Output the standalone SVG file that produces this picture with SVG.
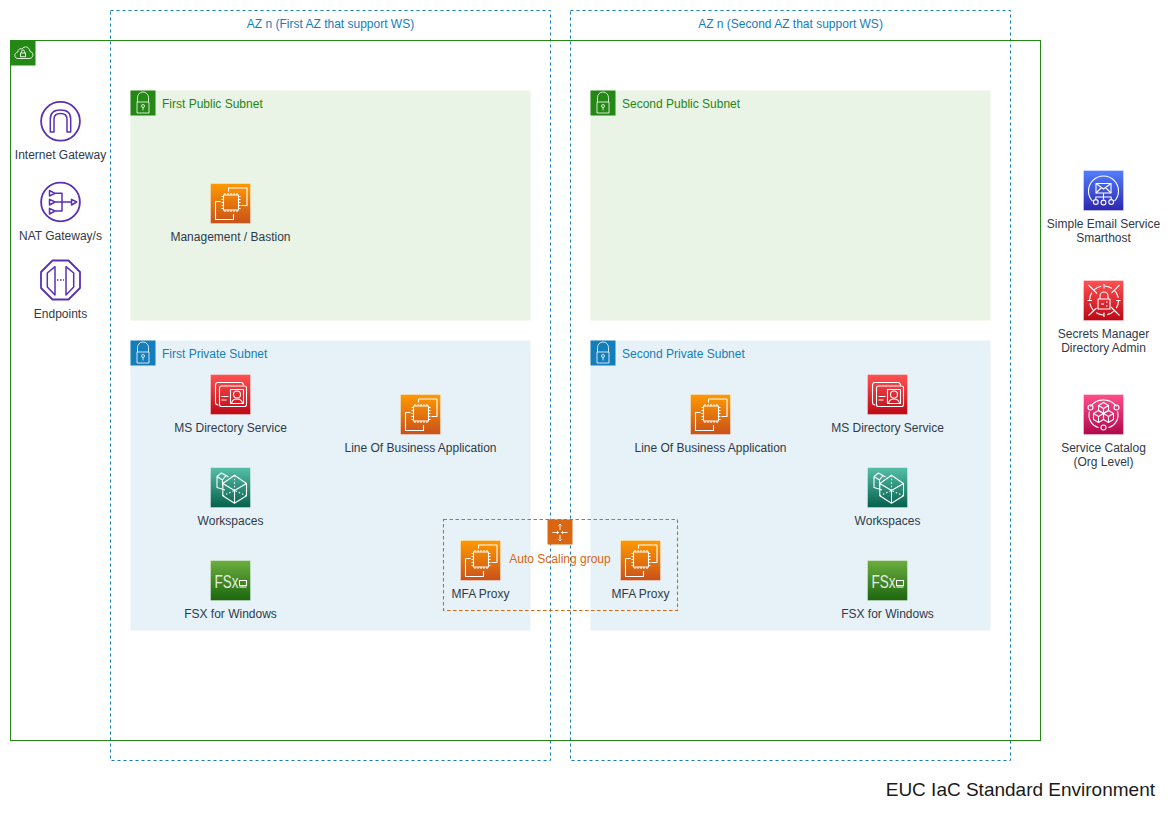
<svg xmlns="http://www.w3.org/2000/svg" xmlns:xlink="http://www.w3.org/1999/xlink" width="1171" height="816" viewBox="0 0 1171 816">
<style>
text{font-family:"Liberation Sans",Arial,sans-serif;font-size:12px;fill:#2f3a48;text-anchor:middle}
.gl{text-anchor:start}
.grn{fill:#248814}.blu{fill:#147EBA}.org{fill:#D86613}
.az{fill:none;stroke:#147EBA;stroke-dasharray:3 3}
.bd{fill:none;stroke:#fff;stroke-opacity:.35}
.w{fill:none;stroke:#fff;stroke-width:1.1;stroke-linejoin:round}
.p{fill:none;stroke:#5A30B5;stroke-width:1.8;stroke-linejoin:round}
.p1{fill:none;stroke:#5A30B5;stroke-width:1.5;stroke-linejoin:round}
</style>
<defs>
<linearGradient id="gO" x1="0" y1="1" x2="0" y2="0"><stop offset="0" stop-color="#C8511B"/><stop offset="1" stop-color="#FF9900"/></linearGradient>
<linearGradient id="gR" x1="0" y1="1" x2="0" y2="0"><stop offset="0" stop-color="#BD0816"/><stop offset="1" stop-color="#FF5252"/></linearGradient>
<linearGradient id="gT" x1="0" y1="1" x2="0" y2="0"><stop offset="0" stop-color="#055F4E"/><stop offset="1" stop-color="#56C0A7"/></linearGradient>
<linearGradient id="gG" x1="0" y1="1" x2="0" y2="0"><stop offset="0" stop-color="#1B660F"/><stop offset="1" stop-color="#6CAE3E"/></linearGradient>
<linearGradient id="gB" x1="0" y1="1" x2="0" y2="0"><stop offset="0" stop-color="#2E27AD"/><stop offset="1" stop-color="#527FFF"/></linearGradient>
<linearGradient id="gP" x1="0" y1="1" x2="0" y2="0"><stop offset="0" stop-color="#B0084D"/><stop offset="1" stop-color="#FF4F8B"/></linearGradient>
<g id="ec2">
<rect width="40" height="40" fill="url(#gO)"/><rect class="bd" width="40" height="40"/>
<path class="w" d="M18 8V4.500H36.500V22H31M10 18H5V36H23V30.500"/>
<rect class="w" x="13" y="11.500" width="15" height="15" stroke-width="1.400"/>
<path class="w" stroke-width=".8" d="M14.500 9.500V11.500M17.500 9.500V11.500M20.500 9.500V11.500M23.500 9.500V11.500M26.500 9.500V11.500M14.500 26.500V28.500M17.500 26.500V28.500M20.500 26.500V28.500M23.500 26.500V28.500M26.500 26.500V28.500M11 13H13M11 16H13M11 19H13M11 22H13M11 25H13M28 13H30M28 16H30M28 19H30M28 22H30M28 25H30"/>
</g>
<g id="ds">
<rect width="40" height="40" fill="url(#gR)"/><rect class="bd" width="40" height="40"/>
<path class="w" d="M8 30.500C6 30.500 5 29.500 5 28V10.500C5 9 6 8 7.500 8H30.500C32 8 33 9 33 11"/>
<rect class="w" x="9" y="11.500" width="27" height="20.500" rx="2"/>
<rect class="w" x="20" y="15" width="13" height="14"/>
<circle class="w" cx="26.500" cy="20" r="3.500"/>
<path class="w" d="M21 29C21.500 25.500 24 24.500 26.500 24.500S31.500 25.500 32 29M11 22H18M11 25.500H16"/>
</g>
<g id="ws">
<rect width="40" height="40" fill="url(#gT)"/><rect class="bd" width="40" height="40"/>
<path class="w" d="M24 7.700L36 16V28.300L24 35.700L12.300 28.300V16ZM12.300 16L24 23L36 16M24 23V35.700"/>
<path class="w" d="M14.500 22.500L6.500 20V9L11 5.500L18 9.500M6.500 9L12 12.500V19M12 12.500L15.500 8"/>
<path class="w" stroke-dasharray="1.500 2" d="M12.300 28.300L24 23L36 28.300M24 7.700V23"/>
</g>
<g id="fsx">
<rect width="40" height="40" fill="url(#gG)"/><rect class="bd" width="40" height="40"/>
<text x="4" y="27.500" style="font-size:18px;fill:#fff;text-anchor:start;opacity:.85" textLength="24" lengthAdjust="spacingAndGlyphs">FSx</text>
<rect class="w" x="29" y="20" width="7" height="5"/><path class="w" d="M29 26.500H36"/>
</g>
<g id="ses">
<rect width="40" height="40" fill="url(#gB)"/><rect class="bd" width="40" height="40"/>
<path class="w" d="M9 30.500C6 27.500 5 24 5 20.500A15 15 0 0 1 35 20.500C35 24 34 27.500 31 30.500"/>
<rect class="w" x="12.500" y="13" width="15" height="9.500"/><path class="w" d="M12.500 13L20 18.500L27.500 13M12.500 22.500L18 17M27.500 22.500L22 17M20 22.500V26.500M12.300 29V26.500H27.700V29M20 26.500V29"/>
<circle class="w" cx="12.300" cy="31.500" r="2.400"/><circle class="w" cx="20" cy="32" r="2.400"/><circle class="w" cx="27.700" cy="31.500" r="2.400"/>
</g>
<g id="sm">
<rect width="40" height="40" fill="url(#gR)"/><rect class="bd" width="40" height="40"/>
<circle class="w" cx="20.500" cy="20" r="14.500" stroke-dasharray="8 3.400"/>
<path class="w" d="M5 4.500L13.500 13M36 4.500L28 12.500M5 35L13 27.500M36 35L27.500 26.500M20.500 3.500V8M20.500 32V36.500M4 20H8.500M32.500 20H37"/>
<rect class="w" x="14.500" y="18.500" width="12" height="10" stroke-width="1.300"/><path class="w" stroke-width="1.300" d="M16.500 18.500V15.500A4 4 0 0 1 24.500 15.500V18.500M17.500 23.500H20.500M22.500 21.500H24M22.500 25.500H24"/>
</g>
<g id="sc">
<rect width="40" height="40" fill="url(#gP)"/><rect class="bd" width="40" height="40"/>
<path class="w" d="M7 12A16 16 0 0 1 33 12M6 17C4 24 8 31 15 33M34 17C36 24 32 31 25 33"/>
<circle class="w" cx="7" cy="13" r="2.500"/><circle class="w" cx="33" cy="13" r="2.500"/><circle class="w" cx="20" cy="33" r="2.500"/>
<path class="w" d="M20 8L25 11V16L20 19L15 16V11ZM15 11L20 14L25 11M20 14V19"/>
<path class="w" d="M15 16L20 19V25L15 28L10 25V19ZM10 19L15 22L20 19M15 22V28"/>
<path class="w" d="M25 16L30 19V25L25 28L20 25V19ZM20 19L25 22L30 19M25 22V28"/>
</g>
<g id="lock">
<path fill="none" stroke="#fff" stroke-opacity=".8" d="M7 11.500V7A5.500 5.500 0 0 1 18 7V11.500M6.500 11.500H18.500V22.500H6.500Z"/>
<circle cx="12.500" cy="15.500" r="1.500" fill="none" stroke="#fff" stroke-opacity=".8"/><path d="M12.500 17V20" stroke="#fff" stroke-opacity=".8"/>
</g>
</defs>
<rect width="1171" height="816" fill="#fff"/>

<g id="az-first"><rect class="az" x="110.500" y="10.500" width="440" height="750"/><text x="330.500" y="28" class="blu">AZ n (First AZ that support WS)</text></g>
<g id="az-second"><rect class="az" x="570.500" y="10.500" width="440" height="750"/><text x="790.500" y="28" class="blu">AZ n (Second AZ that support WS)</text></g>

<g id="vpc">
<rect x="10.500" y="40.500" width="1030" height="700" fill="none" stroke="#248814"/>
<rect x="10.500" y="40.500" width="25" height="25" fill="#248814"/>
<path fill="none" stroke="#fff" stroke-opacity=".85" d="M18 58.500H29C34 58.500 34 52 30 51.500C29.500 46.500 24 45.500 22 49C19 48 17.500 50.500 18 52C13.500 53 14 58.500 18 58.500Z"/>
<rect x="20.500" y="53" width="5" height="3.700" fill="none" stroke="#fff" stroke-opacity=".85"/><path fill="none" stroke="#fff" stroke-opacity=".85" d="M21.500 53V51.500A1.500 1.500 0 0 1 24.500 51.500V53"/>
</g>

<g id="subnet-public-1"><rect x="130.500" y="90.500" width="400" height="230" fill="#E9F3E6"/><rect x="130.500" y="90.500" width="25" height="25" fill="#248814"/><use href="#lock" x="130.500" y="90.500"/><text x="162" y="108" class="gl grn">First Public Subnet</text></g>
<g id="subnet-public-2"><rect x="590.500" y="90.500" width="400" height="230" fill="#E9F3E6"/><rect x="590.500" y="90.500" width="25" height="25" fill="#248814"/><use href="#lock" x="590.500" y="90.500"/><text x="622" y="108" class="gl grn">Second Public Subnet</text></g>
<g id="subnet-private-1"><rect x="130.500" y="340.500" width="400" height="290" fill="#E6F2F8"/><rect x="130.500" y="340.500" width="25" height="25" fill="#147EBA"/><use href="#lock" x="130.500" y="340.500"/><text x="162" y="358" class="gl blu">First Private Subnet</text></g>
<g id="subnet-private-2"><rect x="590.500" y="340.500" width="400" height="290" fill="#E6F2F8"/><rect x="590.500" y="340.500" width="25" height="25" fill="#147EBA"/><use href="#lock" x="590.500" y="340.500"/><text x="622" y="358" class="gl blu">Second Private Subnet</text></g>

<g id="internet-gateway">
<circle class="p" cx="60.500" cy="121.300" r="19.400"/>
<path class="p1" d="M50.300 132V119C50.300 113 54 110 60.500 110S70.700 113 70.700 119V132H67V119C67 115.500 65 113.500 60.500 113.500S54 115.500 54 119V132Z"/>
<text x="60.500" y="159">Internet Gateway</text>
</g>
<g id="nat-gateway">
<circle class="p" cx="60.500" cy="202" r="19.400"/>
<path class="p1" d="M49.500 190.500L55 193.300L49.500 196ZM49.500 199.300L55 202L49.500 205ZM49.500 208.300L55 211L49.500 214ZM55 193.300H62V211H55M55 202H71.500M71.500 199.300L76.700 202L71.500 205Z"/>
<text x="60.500" y="240">NAT Gateway/s</text>
</g>
<g id="endpoints">
<path class="p" d="M52.500 260.500H68.500L80 272V288L68.500 299.500H52.500L41 288V272Z"/>
<path class="p1" d="M55 266.700L47.300 273V287L55 295ZM66 266.700L73.700 273V287L66 295Z"/>
<path class="p1" stroke-dasharray="1.500 1.500" d="M57 280H64"/>
<text x="60.500" y="318">Endpoints</text>
</g>

<g id="management-bastion"><use href="#ec2" x="210.500" y="183.500"/><text x="230.500" y="241">Management / Bastion</text></g>
<g id="ms-directory-1"><use href="#ds" x="210.500" y="374.500"/><text x="230.500" y="432">MS Directory Service</text></g>
<g id="workspaces-1"><use href="#ws" x="210.500" y="467.500"/><text x="230.500" y="525">Workspaces</text></g>
<g id="fsx-1"><use href="#fsx" x="210.500" y="560.500"/><text x="230.500" y="618">FSX for Windows</text></g>
<g id="lob-1"><use href="#ec2" x="400.500" y="394.500"/><text x="420.500" y="452">Line Of Business Application</text></g>
<g id="lob-2"><use href="#ec2" x="690.500" y="394.500"/><text x="710.500" y="452">Line Of Business Application</text></g>
<g id="ms-directory-2"><use href="#ds" x="867.500" y="374.500"/><text x="887.500" y="432">MS Directory Service</text></g>
<g id="workspaces-2"><use href="#ws" x="867.500" y="467.500"/><text x="887.500" y="525">Workspaces</text></g>
<g id="fsx-2"><use href="#fsx" x="867.500" y="560.500"/><text x="887.500" y="618">FSX for Windows</text></g>

<g id="auto-scaling-group">
<rect x="443.500" y="519.500" width="234" height="91" fill="none" stroke="#D86613" stroke-width="1.100" stroke-dasharray="3.500 2.500"/>
<rect x="547.500" y="519.500" width="25" height="25" fill="#D86613"/>
<path fill="none" stroke="#fff" stroke-opacity=".95" d="M560 524V530M558.500 525.500L560 524L561.500 525.500M560 535V541M558.500 539.500L560 541L561.500 539.500M552.500 532.500H558.500M557 531L558.500 532.500L557 534M561.500 532.500H567.500M563 531L561.500 532.500L563 534"/>
<text x="560" y="563" class="org">Auto Scaling group</text>
</g>
<g id="mfa-proxy-1"><use href="#ec2" x="460.500" y="540.500"/><text x="480.500" y="598">MFA Proxy</text></g>
<g id="mfa-proxy-2"><use href="#ec2" x="620.500" y="540.500"/><text x="640.500" y="598">MFA Proxy</text></g>

<g id="ses-node"><use href="#ses" x="1083.500" y="170.500"/><text x="1103.500" y="228">Simple Email Service</text><text x="1103.500" y="242">Smarthost</text></g>
<g id="secrets-manager"><use href="#sm" x="1083.500" y="280.500"/><text x="1103.500" y="338">Secrets Manager</text><text x="1103.500" y="352">Directory Admin</text></g>
<g id="service-catalog"><use href="#sc" x="1083.500" y="394.500"/><text x="1103.500" y="452">Service Catalog</text><text x="1103.500" y="466">(Org Level)</text></g>

<text id="title" x="1155" y="796" style="font-size:19px;text-anchor:end;fill:#1a1a1a">EUC IaC Standard Environment</text>
</svg>
